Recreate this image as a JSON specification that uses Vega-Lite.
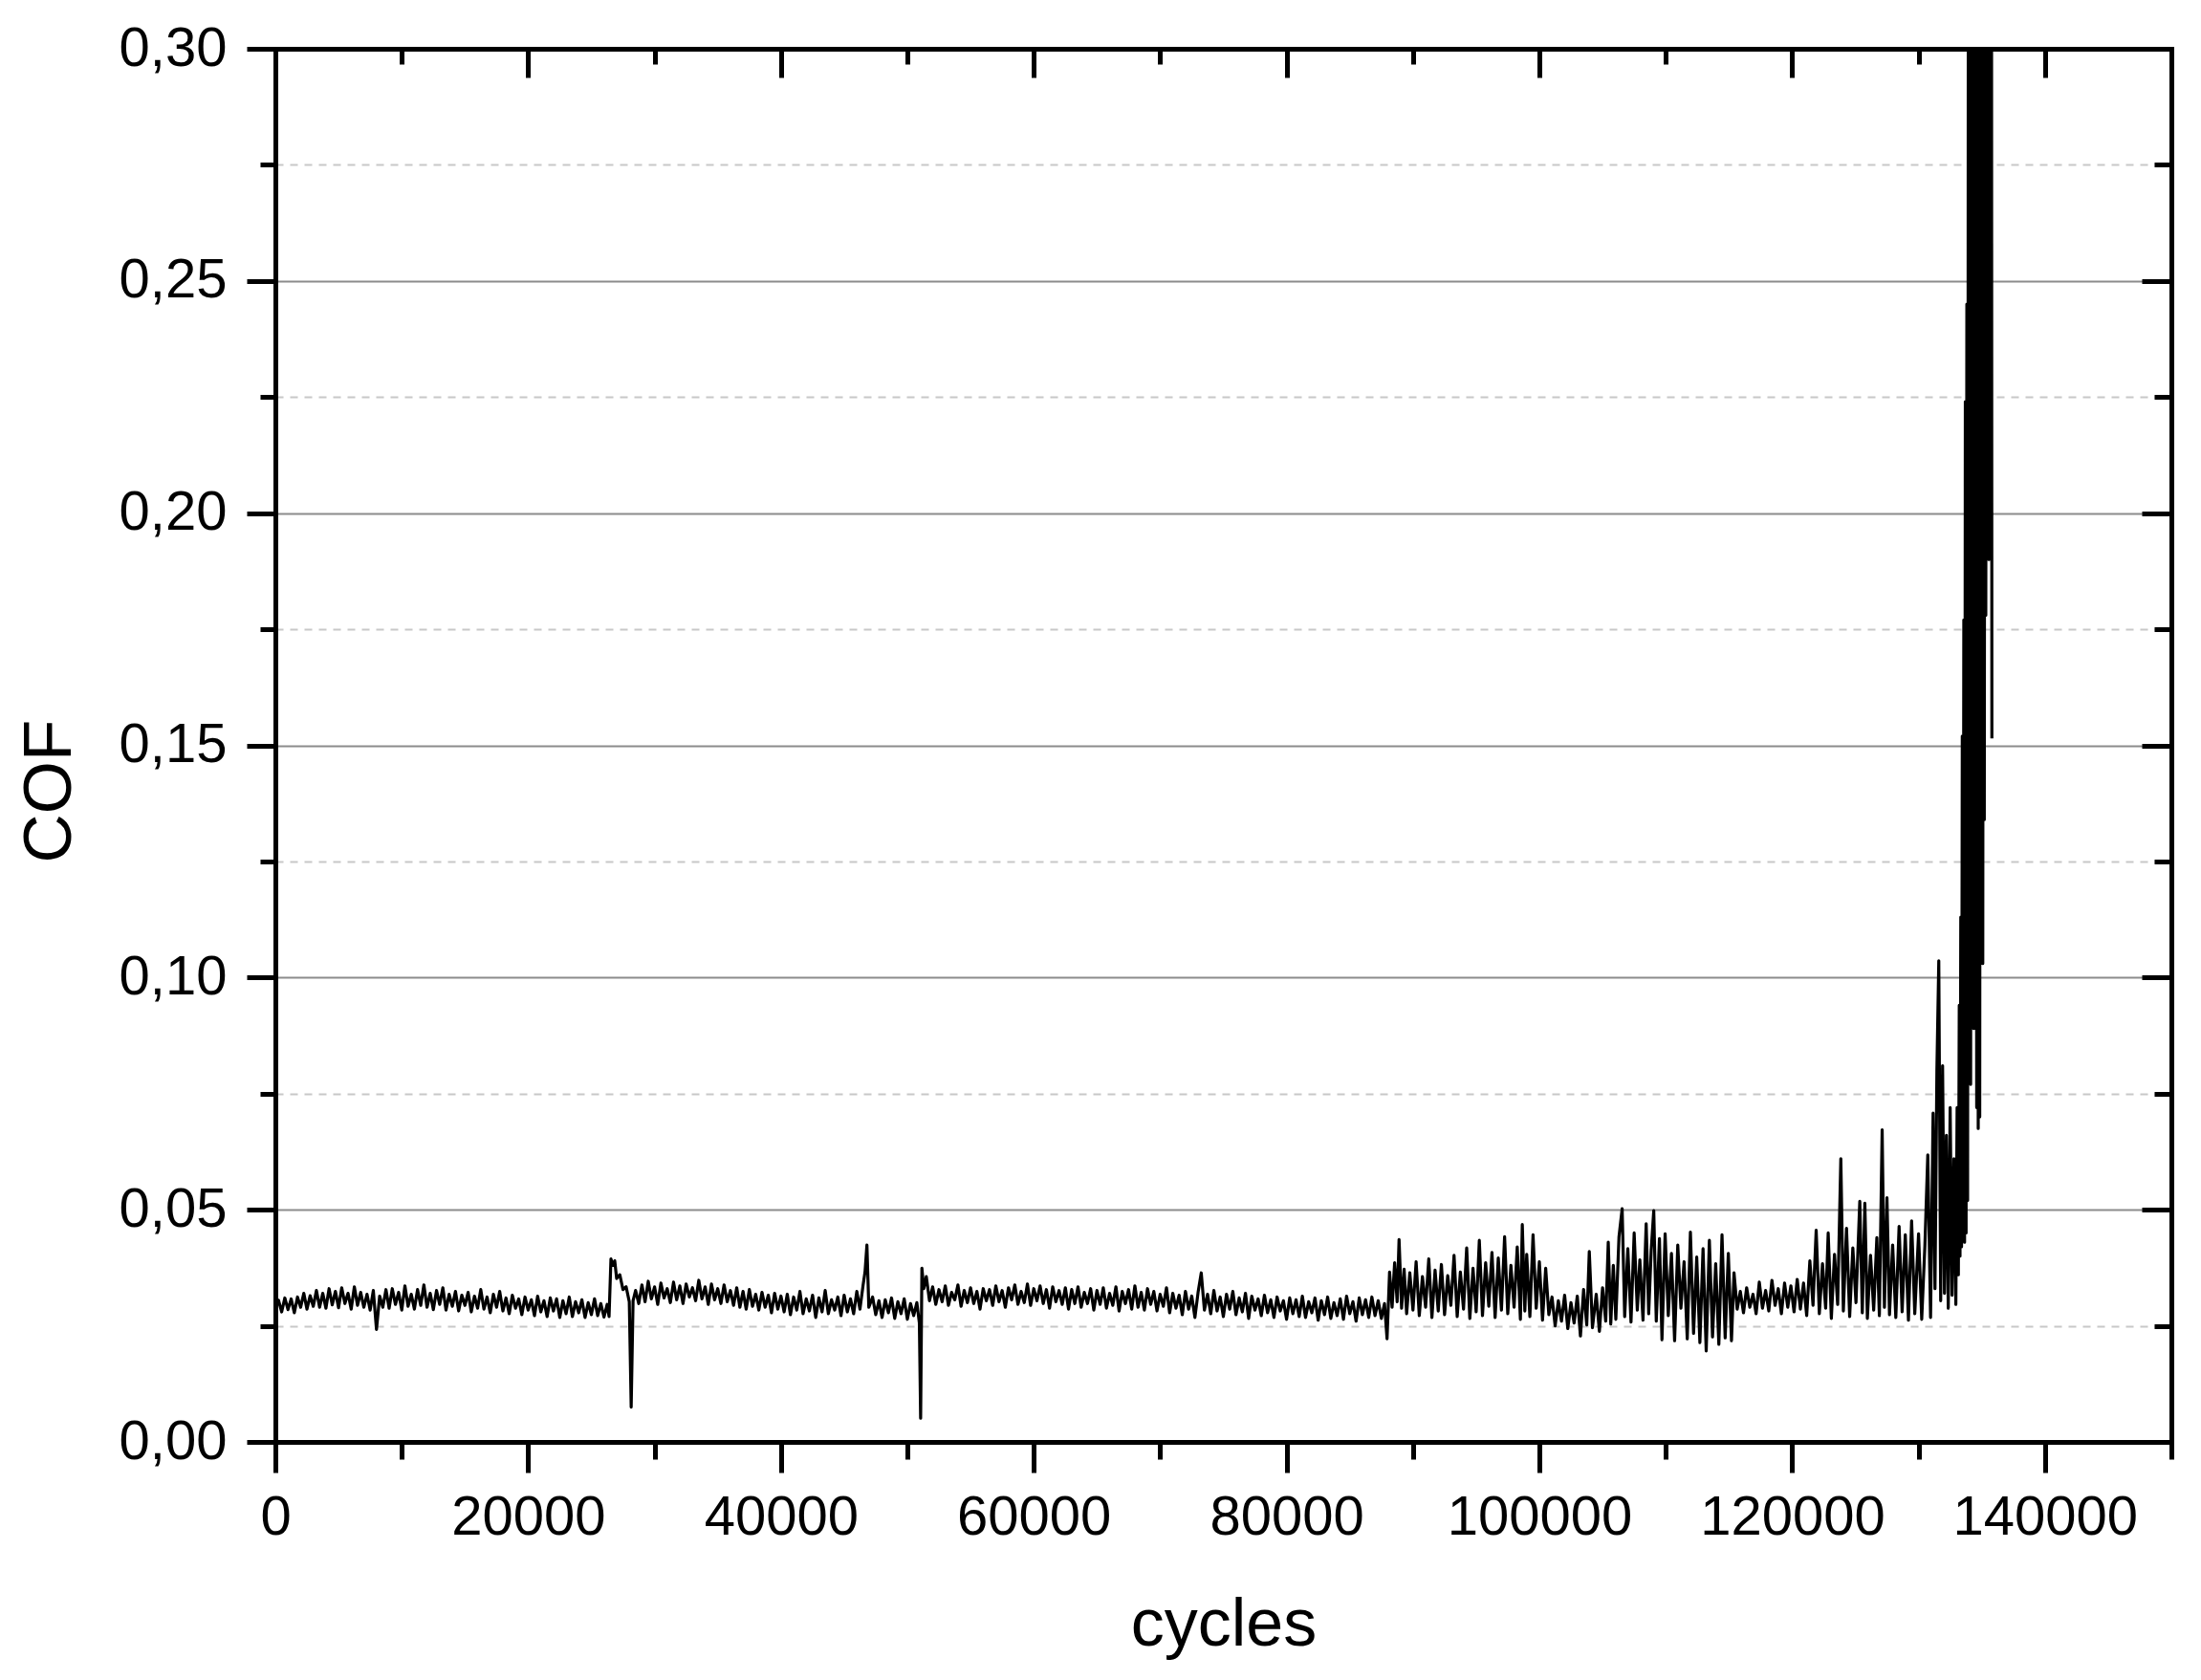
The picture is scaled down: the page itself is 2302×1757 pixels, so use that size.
{
  "$schema": "https://vega.github.io/schema/vega-lite/v6.json",
  "width": 1983,
  "height": 1457,
  "autosize": {"type": "none"},
  "padding": {"left": 288, "top": 51, "right": 31, "bottom": 249},
  "background": "white",
  "config": {"view": {"stroke": null}},
  "datasets": {
    "cof": [
      {"cycles":0,"cof":0.0285},{"cycles":250,"cof":0.0305},{"cycles":500,"cof":0.028},{"cycles":750,"cof":0.031},{"cycles":1000,"cof":0.0285},{"cycles":1250,"cof":0.0308},{"cycles":1500,"cof":0.0278},{"cycles":1750,"cof":0.0312},{"cycles":2000,"cof":0.029},{"cycles":2250,"cof":0.032},{"cycles":2500,"cof":0.0286},{"cycles":2750,"cof":0.0315},{"cycles":3000,"cof":0.0292},{"cycles":3250,"cof":0.0326},{"cycles":3500,"cof":0.029},{"cycles":3750,"cof":0.032},{"cycles":4000,"cof":0.0288},{"cycles":4250,"cof":0.033},{"cycles":4500,"cof":0.0295},{"cycles":4750,"cof":0.0324},{"cycles":5000,"cof":0.0289},{"cycles":5250,"cof":0.0332},{"cycles":5500,"cof":0.0298},{"cycles":5750,"cof":0.032},{"cycles":6000,"cof":0.0286},{"cycles":6250,"cof":0.0334},{"cycles":6500,"cof":0.0294},{"cycles":6750,"cof":0.0322},{"cycles":7000,"cof":0.029},{"cycles":7250,"cof":0.0318},{"cycles":7500,"cof":0.0284},{"cycles":7750,"cof":0.0326},{"cycles":8000,"cof":0.0242},{"cycles":8250,"cof":0.0314},{"cycles":8500,"cof":0.029},{"cycles":8750,"cof":0.0328},{"cycles":9000,"cof":0.0288},{"cycles":9250,"cof":0.033},{"cycles":9500,"cof":0.0296},{"cycles":9750,"cof":0.0322},{"cycles":10000,"cof":0.0284},{"cycles":10250,"cof":0.0336},{"cycles":10500,"cof":0.0292},{"cycles":10750,"cof":0.0318},{"cycles":11000,"cof":0.0286},{"cycles":11250,"cof":0.0328},{"cycles":11500,"cof":0.0294},{"cycles":11750,"cof":0.0338},{"cycles":12000,"cof":0.029},{"cycles":12250,"cof":0.032},{"cycles":12500,"cof":0.0285},{"cycles":12750,"cof":0.0326},{"cycles":13000,"cof":0.0296},{"cycles":13250,"cof":0.0332},{"cycles":13500,"cof":0.0284},{"cycles":13750,"cof":0.0318},{"cycles":14000,"cof":0.0292},{"cycles":14250,"cof":0.0324},{"cycles":14500,"cof":0.0282},{"cycles":14750,"cof":0.0316},{"cycles":15000,"cof":0.0294},{"cycles":15250,"cof":0.0322},{"cycles":15500,"cof":0.028},{"cycles":15750,"cof":0.0314},{"cycles":16000,"cof":0.0288},{"cycles":16250,"cof":0.0328},{"cycles":16500,"cof":0.0286},{"cycles":16750,"cof":0.0312},{"cycles":17000,"cof":0.0278},{"cycles":17250,"cof":0.0318},{"cycles":17500,"cof":0.029},{"cycles":17750,"cof":0.0324},{"cycles":18000,"cof":0.0282},{"cycles":18250,"cof":0.031},{"cycles":18500,"cof":0.0276},{"cycles":18750,"cof":0.0316},{"cycles":19000,"cof":0.0288},{"cycles":19250,"cof":0.0308},{"cycles":19500,"cof":0.0274},{"cycles":19750,"cof":0.0312},{"cycles":20000,"cof":0.0284},{"cycles":20250,"cof":0.0306},{"cycles":20500,"cof":0.0272},{"cycles":20750,"cof":0.0314},{"cycles":21000,"cof":0.028},{"cycles":21250,"cof":0.0304},{"cycles":21500,"cof":0.027},{"cycles":21750,"cof":0.031},{"cycles":22000,"cof":0.0282},{"cycles":22250,"cof":0.0308},{"cycles":22500,"cof":0.0268},{"cycles":22750,"cof":0.0304},{"cycles":23000,"cof":0.0276},{"cycles":23250,"cof":0.0312},{"cycles":23500,"cof":0.027},{"cycles":23750,"cof":0.0302},{"cycles":24000,"cof":0.0278},{"cycles":24250,"cof":0.0306},{"cycles":24500,"cof":0.0268},{"cycles":24750,"cof":0.03},{"cycles":25000,"cof":0.0274},{"cycles":25250,"cof":0.0308},{"cycles":25500,"cof":0.0272},{"cycles":25750,"cof":0.0298},{"cycles":26000,"cof":0.0269},{"cycles":26250,"cof":0.0296},{"cycles":26400,"cof":0.027},{"cycles":26550,"cof":0.0394},{"cycles":26700,"cof":0.038},{"cycles":26850,"cof":0.039},{"cycles":27000,"cof":0.0352},{"cycles":27250,"cof":0.036},{"cycles":27500,"cof":0.0328},{"cycles":27750,"cof":0.0334},{"cycles":28000,"cof":0.0302},{"cycles":28150,"cof":0.0075},{"cycles":28300,"cof":0.0304},
      {"cycles":28500,"cof":0.0326},{"cycles":28750,"cof":0.0298},{"cycles":29000,"cof":0.0338},{"cycles":29250,"cof":0.0302},{"cycles":29500,"cof":0.0346},{"cycles":29750,"cof":0.0308},{"cycles":30000,"cof":0.0334},{"cycles":30250,"cof":0.0296},{"cycles":30500,"cof":0.0342},{"cycles":30750,"cof":0.031},{"cycles":31000,"cof":0.033},{"cycles":31250,"cof":0.03},{"cycles":31500,"cof":0.0344},{"cycles":31750,"cof":0.0306},{"cycles":32000,"cof":0.0336},{"cycles":32250,"cof":0.0298},{"cycles":32500,"cof":0.034},{"cycles":32750,"cof":0.0312},{"cycles":33000,"cof":0.0332},{"cycles":33250,"cof":0.0304},{"cycles":33500,"cof":0.0348},{"cycles":33750,"cof":0.0308},{"cycles":34000,"cof":0.0334},{"cycles":34250,"cof":0.0296},{"cycles":34500,"cof":0.034},{"cycles":34750,"cof":0.0306},{"cycles":35000,"cof":0.033},{"cycles":35250,"cof":0.0298},{"cycles":35500,"cof":0.0338},{"cycles":35750,"cof":0.0302},{"cycles":36000,"cof":0.0326},{"cycles":36250,"cof":0.0294},{"cycles":36500,"cof":0.0332},{"cycles":36750,"cof":0.029},{"cycles":37000,"cof":0.0324},{"cycles":37250,"cof":0.0286},{"cycles":37500,"cof":0.0328},{"cycles":37750,"cof":0.0292},{"cycles":38000,"cof":0.0318},{"cycles":38250,"cof":0.0284},{"cycles":38500,"cof":0.0322},{"cycles":38750,"cof":0.029},{"cycles":39000,"cof":0.0316},{"cycles":39250,"cof":0.0278},{"cycles":39500,"cof":0.032},{"cycles":39750,"cof":0.0286},{"cycles":40000,"cof":0.0314},{"cycles":40250,"cof":0.028},{"cycles":40500,"cof":0.0318},{"cycles":40750,"cof":0.0274},{"cycles":41000,"cof":0.0312},{"cycles":41250,"cof":0.0284},{"cycles":41500,"cof":0.0324},{"cycles":41750,"cof":0.0276},{"cycles":42000,"cof":0.0308},{"cycles":42250,"cof":0.0282},{"cycles":42500,"cof":0.0316},{"cycles":42750,"cof":0.0268},{"cycles":43000,"cof":0.031},{"cycles":43250,"cof":0.028},{"cycles":43500,"cof":0.0326},{"cycles":43750,"cof":0.0276},{"cycles":44000,"cof":0.0306},{"cycles":44250,"cof":0.0284},{"cycles":44500,"cof":0.0312},{"cycles":44750,"cof":0.0272},{"cycles":45000,"cof":0.0316},{"cycles":45250,"cof":0.028},{"cycles":45500,"cof":0.0308},{"cycles":45750,"cof":0.0276},{"cycles":46000,"cof":0.0324},{"cycles":46250,"cof":0.0286},{"cycles":46500,"cof":0.0338},{"cycles":46650,"cof":0.0366},{"cycles":46800,"cof":0.0424},{"cycles":46950,"cof":0.029},{"cycles":47250,"cof":0.0312},{"cycles":47500,"cof":0.0274},{"cycles":47750,"cof":0.0304},{"cycles":48000,"cof":0.0268},{"cycles":48250,"cof":0.0306},{"cycles":48500,"cof":0.0278},{"cycles":48750,"cof":0.031},{"cycles":49000,"cof":0.0266},{"cycles":49250,"cof":0.0302},{"cycles":49500,"cof":0.0276},{"cycles":49750,"cof":0.0308},{"cycles":50000,"cof":0.0264},{"cycles":50250,"cof":0.0298},{"cycles":50500,"cof":0.0272},{"cycles":50750,"cof":0.03},{"cycles":50950,"cof":0.0256},{"cycles":51050,"cof":0.0051},{"cycles":51150,"cof":0.0374},{"cycles":51300,"cof":0.033},{"cycles":51500,"cof":0.0356},{"cycles":51750,"cof":0.0304},
      {"cycles":52000,"cof":0.0334},{"cycles":52250,"cof":0.0296},{"cycles":52500,"cof":0.0328},{"cycles":52750,"cof":0.0302},{"cycles":53000,"cof":0.0336},{"cycles":53250,"cof":0.0294},{"cycles":53500,"cof":0.0322},{"cycles":53750,"cof":0.0306},{"cycles":54000,"cof":0.0338},{"cycles":54250,"cof":0.0292},{"cycles":54500,"cof":0.0326},{"cycles":54750,"cof":0.03},{"cycles":55000,"cof":0.0332},{"cycles":55250,"cof":0.0298},{"cycles":55500,"cof":0.0324},{"cycles":55750,"cof":0.0286},{"cycles":56000,"cof":0.033},{"cycles":56250,"cof":0.0304},{"cycles":56500,"cof":0.0328},{"cycles":56750,"cof":0.0294},{"cycles":57000,"cof":0.0336},{"cycles":57250,"cof":0.0302},{"cycles":57500,"cof":0.0326},{"cycles":57750,"cof":0.029},{"cycles":58000,"cof":0.0332},{"cycles":58250,"cof":0.0306},{"cycles":58500,"cof":0.0338},{"cycles":58750,"cof":0.0296},{"cycles":59000,"cof":0.0324},{"cycles":59250,"cof":0.03},{"cycles":59500,"cof":0.034},{"cycles":59750,"cof":0.0294},{"cycles":60000,"cof":0.033},{"cycles":60250,"cof":0.0304},{"cycles":60500,"cof":0.0336},{"cycles":60750,"cof":0.0298},{"cycles":61000,"cof":0.0328},{"cycles":61250,"cof":0.0288},{"cycles":61500,"cof":0.0334},{"cycles":61750,"cof":0.0302},{"cycles":62000,"cof":0.0326},{"cycles":62250,"cof":0.0296},{"cycles":62500,"cof":0.0332},{"cycles":62750,"cof":0.0286},{"cycles":63000,"cof":0.0328},{"cycles":63250,"cof":0.0298},{"cycles":63500,"cof":0.0334},{"cycles":63750,"cof":0.029},{"cycles":64000,"cof":0.0322},{"cycles":64250,"cof":0.0298},{"cycles":64500,"cof":0.033},{"cycles":64750,"cof":0.0284},{"cycles":65000,"cof":0.0326},{"cycles":65250,"cof":0.0296},{"cycles":65500,"cof":0.0332},{"cycles":65750,"cof":0.0288},{"cycles":66000,"cof":0.032},{"cycles":66250,"cof":0.0294},{"cycles":66500,"cof":0.0334},{"cycles":66750,"cof":0.0282},{"cycles":67000,"cof":0.0324},{"cycles":67250,"cof":0.0298},{"cycles":67500,"cof":0.0328},{"cycles":67750,"cof":0.0286},{"cycles":68000,"cof":0.0336},{"cycles":68250,"cof":0.029},{"cycles":68500,"cof":0.0322},{"cycles":68750,"cof":0.0284},{"cycles":69000,"cof":0.033},{"cycles":69250,"cof":0.0296},{"cycles":69500,"cof":0.0324},{"cycles":69750,"cof":0.0282},{"cycles":70000,"cof":0.0318},{"cycles":70250,"cof":0.0292},{"cycles":70500,"cof":0.0332},{"cycles":70750,"cof":0.0278},{"cycles":71000,"cof":0.032},{"cycles":71250,"cof":0.0288},{"cycles":71500,"cof":0.0316},{"cycles":71750,"cof":0.0274},{"cycles":72000,"cof":0.0324},{"cycles":72250,"cof":0.0286},{"cycles":72500,"cof":0.0314},{"cycles":72750,"cof":0.0268},{"cycles":73000,"cof":0.0322},{"cycles":73250,"cof":0.0364},{"cycles":73500,"cof":0.0284},{"cycles":73750,"cof":0.0318},{"cycles":74000,"cof":0.0276},{"cycles":74250,"cof":0.0326},{"cycles":74500,"cof":0.0282},{"cycles":74750,"cof":0.0312},{"cycles":75000,"cof":0.027},{"cycles":75250,"cof":0.0318},{"cycles":75500,"cof":0.0286},{"cycles":75750,"cof":0.0324},{"cycles":76000,"cof":0.0274},{"cycles":76250,"cof":0.031},{"cycles":76500,"cof":0.028},{"cycles":76750,"cof":0.032},{"cycles":77000,"cof":0.0266},{"cycles":77250,"cof":0.0314},{"cycles":77500,"cof":0.0284},{"cycles":77750,"cof":0.0308},{"cycles":78000,"cof":0.0272},{"cycles":78250,"cof":0.0316},{"cycles":78500,"cof":0.0278},{"cycles":78750,"cof":0.0306},{"cycles":79000,"cof":0.0268},{"cycles":79250,"cof":0.0312},{"cycles":79500,"cof":0.0282},{"cycles":79750,"cof":0.0304},{"cycles":80000,"cof":0.0264},{"cycles":80250,"cof":0.031},{"cycles":80500,"cof":0.0276},{"cycles":80750,"cof":0.0306},{"cycles":81000,"cof":0.027},{"cycles":81250,"cof":0.0314},{"cycles":81500,"cof":0.0268},{"cycles":81750,"cof":0.0302},{"cycles":82000,"cof":0.0278},{"cycles":82250,"cof":0.031},{"cycles":82500,"cof":0.0262},{"cycles":82750,"cof":0.0304},{"cycles":83000,"cof":0.0274},{"cycles":83250,"cof":0.0312},{"cycles":83500,"cof":0.0266},{"cycles":83750,"cof":0.03},{"cycles":84000,"cof":0.0272},{"cycles":84250,"cof":0.0308},{"cycles":84500,"cof":0.0264},{"cycles":84750,"cof":0.0314},{"cycles":85000,"cof":0.0276},{"cycles":85250,"cof":0.0302},{"cycles":85500,"cof":0.026},{"cycles":85750,"cof":0.031},{"cycles":86000,"cof":0.0274},{"cycles":86250,"cof":0.0306},{"cycles":86500,"cof":0.0268},{"cycles":86750,"cof":0.0312},{"cycles":87000,"cof":0.0272},{"cycles":87250,"cof":0.0304},{"cycles":87500,"cof":0.0266},{"cycles":87750,"cof":0.0298},{"cycles":87950,"cof":0.0222},{"cycles":88150,"cof":0.0366},{"cycles":88350,"cof":0.029},{"cycles":88550,"cof":0.0386},{"cycles":88750,"cof":0.0302},{"cycles":88900,"cof":0.0436},{"cycles":89100,"cof":0.0288},{"cycles":89300,"cof":0.0372},{"cycles":89500,"cof":0.0276},
      {"cycles":89750,"cof":0.0364},{"cycles":90000,"cof":0.0284},{"cycles":90250,"cof":0.0388},{"cycles":90500,"cof":0.0272},{"cycles":90750,"cof":0.0356},{"cycles":91000,"cof":0.029},{"cycles":91250,"cof":0.0394},{"cycles":91500,"cof":0.0268},{"cycles":91750,"cof":0.037},{"cycles":92000,"cof":0.0282},{"cycles":92250,"cof":0.0382},{"cycles":92500,"cof":0.0274},{"cycles":92750,"cof":0.0358},{"cycles":93000,"cof":0.0294},{"cycles":93250,"cof":0.0402},{"cycles":93500,"cof":0.027},{"cycles":93750,"cof":0.0366},{"cycles":94000,"cof":0.0286},{"cycles":94250,"cof":0.0418},{"cycles":94500,"cof":0.0266},{"cycles":94750,"cof":0.0374},{"cycles":95000,"cof":0.028},{"cycles":95250,"cof":0.0434},{"cycles":95500,"cof":0.0272},{"cycles":95750,"cof":0.0386},{"cycles":96000,"cof":0.0292},{"cycles":96250,"cof":0.0408},{"cycles":96500,"cof":0.0268},{"cycles":96750,"cof":0.0396},{"cycles":97000,"cof":0.0284},{"cycles":97250,"cof":0.0442},{"cycles":97500,"cof":0.0276},{"cycles":97750,"cof":0.038},{"cycles":98000,"cof":0.029},{"cycles":98250,"cof":0.042},{"cycles":98500,"cof":0.0264},{"cycles":98650,"cof":0.0468},{"cycles":98850,"cof":0.0282},{"cycles":99000,"cof":0.0404},{"cycles":99250,"cof":0.027},{"cycles":99500,"cof":0.0446},{"cycles":99750,"cof":0.0288},{"cycles":100000,"cof":0.0388},{"cycles":100250,"cof":0.0262},{"cycles":100500,"cof":0.0374},{"cycles":100750,"cof":0.0274},
      {"cycles":101000,"cof":0.0312},{"cycles":101250,"cof":0.025},{"cycles":101500,"cof":0.0304},{"cycles":101750,"cof":0.026},{"cycles":102000,"cof":0.0316},{"cycles":102250,"cof":0.0244},{"cycles":102500,"cof":0.03},{"cycles":102750,"cof":0.0256},{"cycles":103000,"cof":0.0314},{"cycles":103250,"cof":0.0228},{"cycles":103500,"cof":0.0328},{"cycles":103750,"cof":0.0252},{"cycles":103950,"cof":0.041},{"cycles":104200,"cof":0.0246},{"cycles":104500,"cof":0.0318},{"cycles":104750,"cof":0.0238},{"cycles":105000,"cof":0.0332},{"cycles":105250,"cof":0.026},{"cycles":105450,"cof":0.043},{"cycles":105650,"cof":0.0254},
      {"cycles":105850,"cof":0.038},{"cycles":106050,"cof":0.0264},{"cycles":106300,"cof":0.0442},{"cycles":106550,"cof":0.0502},{"cycles":106750,"cof":0.027},{"cycles":107000,"cof":0.0416},{"cycles":107250,"cof":0.0258},{"cycles":107500,"cof":0.045},{"cycles":107750,"cof":0.0284},{"cycles":107950,"cof":0.0392},{"cycles":108200,"cof":0.0262},{"cycles":108450,"cof":0.047},{"cycles":108650,"cof":0.0276},{"cycles":108850,"cof":0.0414},{"cycles":109050,"cof":0.0498},{"cycles":109250,"cof":0.026},{"cycles":109500,"cof":0.0438},{"cycles":109700,"cof":0.022},{"cycles":109950,"cof":0.0448},{"cycles":110200,"cof":0.0272},{"cycles":110450,"cof":0.0406},{"cycles":110700,"cof":0.0218},{"cycles":110950,"cof":0.0424},{"cycles":111200,"cof":0.0288},{"cycles":111450,"cof":0.0388},{"cycles":111700,"cof":0.0222},{"cycles":111950,"cof":0.0452},{"cycles":112200,"cof":0.0234},{"cycles":112450,"cof":0.0398},{"cycles":112700,"cof":0.0214},{"cycles":112950,"cof":0.0416},{"cycles":113200,"cof":0.0196},{"cycles":113450,"cof":0.0434},{"cycles":113700,"cof":0.0226},{"cycles":113950,"cof":0.0384},{"cycles":114200,"cof":0.021},{"cycles":114450,"cof":0.0446},{"cycles":114700,"cof":0.0224},{"cycles":114950,"cof":0.0406},{"cycles":115200,"cof":0.0218},{"cycles":115400,"cof":0.0364},
      {"cycles":115650,"cof":0.0286},{"cycles":115900,"cof":0.0324},{"cycles":116150,"cof":0.0278},{"cycles":116400,"cof":0.0332},{"cycles":116650,"cof":0.029},{"cycles":116900,"cof":0.0318},{"cycles":117150,"cof":0.0276},{"cycles":117400,"cof":0.0344},{"cycles":117650,"cof":0.0288},{"cycles":117900,"cof":0.0326},{"cycles":118150,"cof":0.0282},{"cycles":118400,"cof":0.0348},{"cycles":118650,"cof":0.0294},{"cycles":118900,"cof":0.033},{"cycles":119150,"cof":0.0276},{"cycles":119400,"cof":0.0342},{"cycles":119650,"cof":0.029},{"cycles":119900,"cof":0.0336},{"cycles":120150,"cof":0.028},{"cycles":120400,"cof":0.035},{"cycles":120650,"cof":0.0286},{"cycles":120900,"cof":0.0342},
      {"cycles":121150,"cof":0.0272},{"cycles":121400,"cof":0.039},{"cycles":121650,"cof":0.0294},{"cycles":121900,"cof":0.0456},{"cycles":122150,"cof":0.0276},{"cycles":122400,"cof":0.0384},{"cycles":122650,"cof":0.0288},{"cycles":122850,"cof":0.045},{"cycles":123100,"cof":0.0266},{"cycles":123350,"cof":0.0404},{"cycles":123600,"cof":0.0296},{"cycles":123850,"cof":0.061},{"cycles":124050,"cof":0.0282},{"cycles":124300,"cof":0.046},{"cycles":124550,"cof":0.027},{"cycles":124800,"cof":0.0418},{"cycles":125050,"cof":0.03},{"cycles":125350,"cof":0.0518},{"cycles":125550,"cof":0.0278},{"cycles":125750,"cof":0.0514},{"cycles":125950,"cof":0.0266},{"cycles":126200,"cof":0.0402},{"cycles":126450,"cof":0.0284},{"cycles":126700,"cof":0.044},{"cycles":126900,"cof":0.0272},{"cycles":127120,"cof":0.0672},{"cycles":127300,"cof":0.029},{"cycles":127500,"cof":0.0526},{"cycles":127700,"cof":0.0274},{"cycles":127950,"cof":0.0424},{"cycles":128200,"cof":0.0268},{"cycles":128460,"cof":0.0464},{"cycles":128700,"cof":0.028},{"cycles":128950,"cof":0.0446},{"cycles":129200,"cof":0.0262},{"cycles":129450,"cof":0.0476},{"cycles":129700,"cof":0.0276},{"cycles":130000,"cof":0.0448},{"cycles":130250,"cof":0.0264},{"cycles":130500,"cof":0.0422},{"cycles":130730,"cof":0.0618},{"cycles":130950,"cof":0.0268},
      {"cycles":131150,"cof":0.0708},{"cycles":131300,"cof":0.033},{"cycles":131450,"cof":0.08},{"cycles":131600,"cof":0.1036},{"cycles":131750,"cof":0.0304},{"cycles":131900,"cof":0.081},{"cycles":132050,"cof":0.032},{"cycles":132200,"cof":0.066},{"cycles":132350,"cof":0.0288},{"cycles":132500,"cof":0.072},{"cycles":132650,"cof":0.0316},{"cycles":132800,"cof":0.061},{"cycles":132950,"cof":0.0296},{"cycles":133050,"cof":0.072},{"cycles":133150,"cof":0.036},{"cycles":133220,"cof":0.094},{"cycles":133280,"cof":0.04},{"cycles":133340,"cof":0.113},{"cycles":133400,"cof":0.042},{"cycles":133460,"cof":0.152},{"cycles":133520,"cof":0.044},{"cycles":133580,"cof":0.177},{"cycles":133640,"cof":0.043},{"cycles":133700,"cof":0.224},{"cycles":133760,"cof":0.045},{"cycles":133820,"cof":0.245},{"cycles":133880,"cof":0.052},{"cycles":133940,"cof":0.34},{"cycles":134000,"cof":0.09},{"cycles":134060,"cof":0.35},{"cycles":134120,"cof":0.077},{"cycles":134180,"cof":0.33},{"cycles":134240,"cof":0.12},{"cycles":134300,"cof":0.345},{"cycles":134360,"cof":0.089},{"cycles":134420,"cof":0.32},{"cycles":134480,"cof":0.14},{"cycles":134540,"cof":0.34},{"cycles":134600,"cof":0.072},{"cycles":134660,"cof":0.35},{"cycles":134720,"cof":0.0675},{"cycles":134780,"cof":0.33},{"cycles":134840,"cof":0.07},{"cycles":134900,"cof":0.345},{"cycles":134960,"cof":0.16},{"cycles":135020,"cof":0.325},{"cycles":135080,"cof":0.103},{"cycles":135140,"cof":0.34},{"cycles":135200,"cof":0.134},{"cycles":135260,"cof":0.335},{"cycles":135320,"cof":0.178},{"cycles":135380,"cof":0.34},{"cycles":135440,"cof":0.211},{"cycles":135500,"cof":0.33},{"cycles":135560,"cof":0.19},{"cycles":135620,"cof":0.4},{"cycles":135760,"cof":0.4},{"cycles":135800,"cof":0.1515}
    ]
  },
  "data": {"name": "cof"},
  "resolve": {"axis": {"x": "independent", "y": "independent"}},
  "layer": [
    {
      "mark": {"type": "line", "strokeOpacity": 0, "clip": true},
      "encoding": {
        "x": {"field": "cycles", "type": "quantitative", "scale": {"domain": [0, 150000], "nice": false, "zero": false}, "axis": null},
        "y": {"field": "cof", "type": "quantitative", "scale": {"domain": [0, 0.3], "nice": false},
          "axis": {
            "orient": "left",
            "values": [0.025, 0.05, 0.075, 0.1, 0.125, 0.15, 0.175, 0.2, 0.225, 0.25, 0.275],
            "grid": true,
            "gridWidth": 2,
            "gridColor": {"condition": {"test": "round(datum.value*40) % 2 === 0", "value": "#8c8c8c"}, "value": "#c8c8c8"},
            "gridDash": {"condition": {"test": "round(datum.value*40) % 2 === 0", "value": []}, "value": [8, 7]},
            "domain": false, "ticks": false, "labels": false, "title": null, "zindex": 0
          }
        }
      }
    },
    {
      "mark": {"type": "line", "color": "black", "strokeWidth": 3.2, "strokeJoin": "round", "clip": true},
      "encoding": {
        "x": {"field": "cycles", "type": "quantitative", "scale": {"domain": [0, 150000], "nice": false, "zero": false},
          "axis": {
            "orient": "bottom",
            "values": [0, 10000, 20000, 30000, 40000, 50000, 60000, 70000, 80000, 90000, 100000, 110000, 120000, 130000, 140000, 150000],
            "grid": false,
            "domainColor": "black", "domainWidth": 5, "domainCap": "square",
            "tickColor": "black", "tickWidth": 5,
            "tickSize": {"condition": {"test": "datum.value % 20000 === 0", "value": 32}, "value": 18},
            "labelExpr": "datum.value % 20000 === 0 ? format(datum.value, 'd') : ''",
            "labelFont": "Liberation Sans", "labelFontSize": 58, "labelColor": "black",
            "labelPadding": 18, "labelFlush": false, "labelOverlap": false, "labelLimit": 0,
            "title": "cycles", "titleFont": "Liberation Sans", "titleFontSize": 70, "titleFontWeight": "normal",
            "titleColor": "black", "titleBaseline": "alphabetic", "titleY": 212,
            "zindex": 1
          }
        },
        "y": {"field": "cof", "type": "quantitative", "scale": {"domain": [0, 0.3], "nice": false},
          "axis": {
            "orient": "left",
            "values": [0, 0.025, 0.05, 0.075, 0.1, 0.125, 0.15, 0.175, 0.2, 0.225, 0.25, 0.275, 0.3],
            "grid": false,
            "domainColor": "black", "domainWidth": 5, "domainCap": "square",
            "tickColor": "black", "tickWidth": 5,
            "tickSize": {"condition": {"test": "round(datum.value*40) % 2 === 0", "value": 30}, "value": 16},
            "labelExpr": "round(datum.value*40) % 2 === 0 ? replace(format(datum.value, '.2f'), '.', ',') : ''",
            "labelFont": "Liberation Sans", "labelFontSize": 58, "labelColor": "black",
            "labelPadding": 21, "labelOverlap": false, "labelFlush": false, "labelLimit": 0,
            "title": "COF", "titleFont": "Liberation Sans", "titleFontSize": 71, "titleFontWeight": "normal",
            "titleColor": "black", "titleAngle": -90, "titleAlign": "center", "titleBaseline": "alphabetic",
            "titleX": -215, "titleY": 776,
            "zindex": 1
          }
        }
      }
    },
    {
      "mark": {"type": "line", "strokeOpacity": 0, "clip": true},
      "encoding": {
        "x": {"field": "cycles", "type": "quantitative", "scale": {"domain": [0, 150000], "nice": false, "zero": false},
          "axis": {
            "orient": "top",
            "values": [0, 10000, 20000, 30000, 40000, 50000, 60000, 70000, 80000, 90000, 100000, 110000, 120000, 130000, 140000, 150000],
            "grid": false,
            "domainColor": "black", "domainWidth": 5, "domainCap": "square",
            "tickColor": "black", "tickWidth": 5,
            "tickSize": {"condition": {"test": "datum.value % 20000 === 0", "value": -30}, "value": -16},
            "labels": false, "title": null, "zindex": 1
          }
        },
        "y": {"field": "cof", "type": "quantitative", "scale": {"domain": [0, 0.3], "nice": false},
          "axis": {
            "orient": "right",
            "values": [0, 0.025, 0.05, 0.075, 0.1, 0.125, 0.15, 0.175, 0.2, 0.225, 0.25, 0.275, 0.3],
            "grid": false,
            "domainColor": "black", "domainWidth": 5, "domainCap": "square",
            "tickColor": "black", "tickWidth": 5,
            "tickSize": {"condition": {"test": "round(datum.value*40) % 2 === 0", "value": -31}, "value": -18},
            "labels": false, "title": null, "zindex": 1
          }
        }
      }
    }
  ]
}
